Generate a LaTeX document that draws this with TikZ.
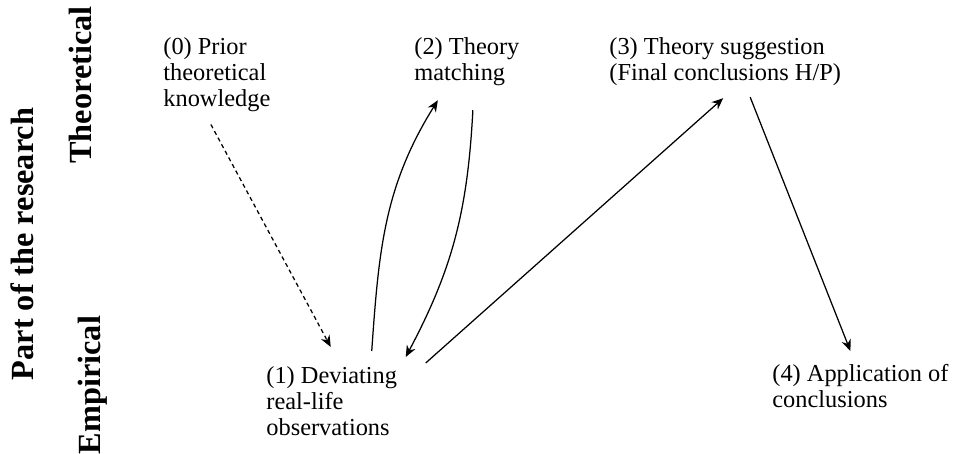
\documentclass[tikz,border=0pt]{standalone}
\usepackage{fontspec}
\setmainfont{Liberation Serif}
\usetikzlibrary{positioning, arrows.meta, calc}
\tikzset{
  stage/.style = {
    inner sep=0pt, anchor=north west, align=left,
    font=\fontsize{11.7}{12.6}\selectfont,
  },
  side/.style = {
    inner sep=0pt, anchor=base, rotate=90,
    font=\fontsize{15.5}{18}\selectfont\bfseries,
  },
  arrow/.style = {line width=0.6pt, -{Stealth[length=5.5pt, width=4.6pt]}},
  hint/.style = {arrow, dash pattern=on 2pt off 1.6pt},
}

\begin{document}
\begin{tikzpicture}[x=0.48pt, y=0.48pt]
    \useasboundingbox (0,0) rectangle (954,-454);
    % --- Side labels ---
    \node[side] (part) at (33,-244) {Part of the research};
    \node[side] (theo) at (92,-85) {Theoretical};
    \node[side] (emp)  at (100,-385) {Empirical};

    % --- Nodes ---
    \node[stage] (prior)  at (163,-37)  {(0) Prior\\theoretical\\knowledge};
    \node[stage] (match)  at (414,-37)  {(2) Theory\\matching};
    \node[stage] (suggest) at (609,-37) {(3) Theory suggestion\\(Final conclusions H/P)};
    \node[stage] (observe) at (266,-366) {(1) Deviating\\real-life\\observations};
    \node[stage] (apply)  at (772,-364) {(4) Application of\\conclusions};

    % --- Arrows ---
    \draw[hint]  ($(prior.south)+(-6,-12)$) -- ($(observe.north)+(-1,19)$);
    \draw[arrow] ($(observe.north)+(40,15)$) to[out=86, in=238] ($(match.south)+(-29,-14)$);
    \draw[arrow] ($(match.south)+(6,-24)$) to[out=-93, in=62] ($(observe.north)+(74,9)$);
    \draw[arrow] ($(observe.north)+(94,3)$) -- ($(suggest.south)+(-2,-12)$);
    \draw[arrow] ($(suggest.south)+(25,-11)$) -- ($(apply.north)+(-10,13)$);
\end{tikzpicture}
\end{document}
